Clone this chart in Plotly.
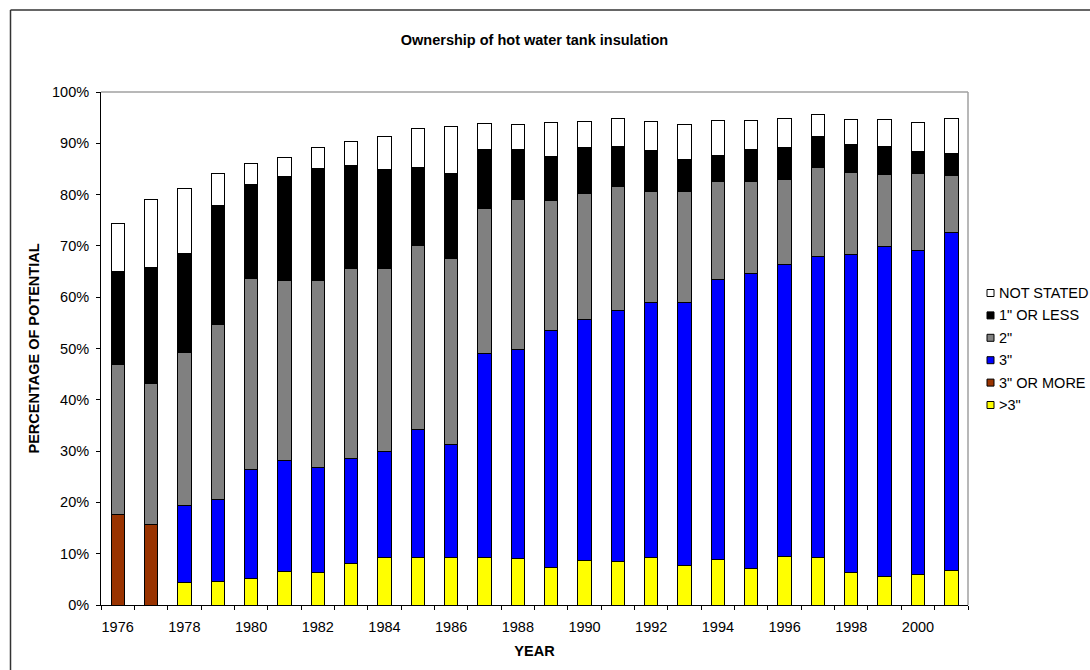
import plotly.graph_objects as go

# Survey years (one category per bar)
years = ["1976", "1977", "1978", "1979", "1980", "1981", "1982", "1983", "1984",
         "1985", "1986", "1987", "1988", "1989", "1990", "1991", "1992", "1993",
         "1994", "1995", "1996", "1997", "1998", "1999", "2000", "2001"]

# Share of potential (%) by insulation thickness, stacked bottom to top
over_3in = [None, None, 4.4, 4.6, 5.2, 6.6, 6.4, 8.0, 9.2, 9.3, 9.3, 9.2, 9.1,
            7.4, 8.6, 8.5, 9.2, 7.7, 8.9, 7.2, 9.4, 9.2, 6.3, 5.5, 6.0, 6.8]
three_or_more = [17.6, 15.6, None, None, None, None, None, None, None, None, None,
                 None, None, None, None, None, None, None, None, None, None, None,
                 None, None, None, None]
three_in = [None, None, 15.0, 16.0, 21.3, 21.5, 20.4, 20.5, 20.7, 24.9, 21.9, 39.9,
            40.8, 46.2, 47.1, 49.0, 49.8, 51.3, 54.6, 57.4, 57.0, 58.7, 62.1, 64.3,
            63.1, 65.9]
two_in = [29.2, 27.6, 29.8, 34.0, 37.1, 35.2, 36.4, 37.1, 35.7, 35.8, 36.3, 28.2,
          29.2, 25.3, 24.5, 24.0, 21.7, 21.7, 19.0, 18.0, 16.6, 17.3, 16.0, 14.1,
          15.0, 11.0]
one_or_less = [18.2, 22.6, 19.4, 23.2, 18.4, 20.2, 21.8, 20.0, 19.2, 15.2, 16.6,
               11.4, 9.7, 8.6, 8.9, 7.8, 7.9, 6.2, 5.2, 6.2, 6.1, 6.1, 5.4, 5.4,
               4.4, 4.4]
not_stated = [9.4, 13.2, 12.5, 6.4, 4.1, 3.8, 4.1, 4.7, 6.5, 7.6, 9.1, 5.2, 4.9,
              6.5, 5.1, 5.5, 5.6, 6.8, 6.7, 5.7, 5.7, 4.4, 4.8, 5.3, 5.5, 6.7]

series_names = ['>3"', '3" OR MORE', '3"', '2"', '1" OR LESS', 'NOT STATED']
series_values = [over_3in, three_or_more, three_in, two_in, one_or_less, not_stated]
series_colors = ["#FFFF00", "#993300", "#0000FF", "#808080", "#000000", "#FFFFFF"]

FONT = "Liberation Sans, Arial, sans-serif"
W, H = 1090, 670
L, R, T, B = 101, 968, 92, 605   # plot area in pixels


# paper coordinates cover the whole page (margins are zero, axes use domains)
def px_x(px):
    return px / W


def px_y(py):
    return 1 - py / H


fig = go.Figure()
for name, vals, col in zip(series_names, series_values, series_colors):
    fig.add_trace(go.Bar(
        x=years, y=vals, name=name, showlegend=False,
        marker=dict(color=col, line=dict(color="#000000", width=1)),
    ))

frame = dict(color="#333333", width=1.5)
grey = dict(color="#A0A0A0", width=1.5)
shapes = [
    # outer chart frame (left and top edges; right and bottom run off the page)
    dict(type="line", xref="paper", yref="paper",
         x0=px_x(10.5), x1=px_x(10.5), y0=0, y1=px_y(10), line=frame),
    dict(type="line", xref="paper", yref="paper",
         x0=px_x(10.5), x1=1, y0=px_y(10), y1=px_y(10), line=frame),
    # plot area border (top and right)
    dict(type="line", xref="paper", yref="paper",
         x0=px_x(L), x1=px_x(R), y0=px_y(T), y1=px_y(T), line=grey),
    dict(type="line", xref="paper", yref="paper",
         x0=px_x(R), x1=px_x(R), y0=px_y(B), y1=px_y(T), line=grey),
]

annotations = []
# legend, listed top to bottom in reverse stacking order
leg_top, leg_step = 293, 22.4
for i, (name, col) in enumerate(zip(series_names[::-1], series_colors[::-1])):
    cy = leg_top + i * leg_step
    shapes.append(dict(type="rect", xref="paper", yref="paper",
                       x0=px_x(987), x1=px_x(994), y0=px_y(cy + 3.5), y1=px_y(cy - 3.5),
                       fillcolor=col, line=dict(color="#000000", width=1)))
    annotations.append(dict(xref="paper", yref="paper", x=px_x(997), y=px_y(cy),
                            xanchor="left", yanchor="middle", showarrow=False,
                            text=name, font=dict(family=FONT, size=14.5, color="#000000")))

fig.update_layout(
    width=W, height=H,
    margin=dict(l=0, r=0, t=0, b=0, pad=0, autoexpand=False),
    paper_bgcolor="#FFFFFF", plot_bgcolor="#FFFFFF",
    barmode="stack", bargap=0.6,
    font=dict(family=FONT, size=14.5, color="#000000"),
    title=dict(text="<b>Ownership of hot water tank insulation</b>",
               x=(L + R) / 2 / W, xanchor="center",
               y=1 - 40 / H, yanchor="middle", yref="container",
               font=dict(family=FONT, size=14.5, color="#000000")),
    xaxis=dict(
        domain=[px_x(L), px_x(R)],
        type="category", categoryorder="array", categoryarray=years,
        tickmode="array", tickvals=years,
        ticktext=[y if int(y) % 2 == 0 else "" for y in years],
        tickson="boundaries", ticks="outside", ticklen=4, tickcolor="#000000",
        tickangle=0, ticklabelstandoff=9,
        showline=True, linecolor="#000000", linewidth=1, showgrid=False,
        tickfont=dict(family=FONT, size=14.5, color="#000000"),
        title=dict(text="<b>YEAR</b>", standoff=11,
                   font=dict(family=FONT, size=14.5, color="#000000")),
    ),
    yaxis=dict(
        domain=[px_y(B), px_y(T)],
        range=[0, 100], tickmode="linear", tick0=0, dtick=10, ticksuffix="%",
        ticks="outside", ticklen=4, tickcolor="#000000", ticklabelstandoff=4,
        showline=True, linecolor="#000000", linewidth=1, showgrid=False,
        zeroline=False,
        tickfont=dict(family=FONT, size=14.5, color="#000000"),
        title=dict(text="<b>PERCENTAGE OF POTENTIAL</b>", standoff=8,
                   font=dict(family=FONT, size=14.5, color="#000000")),
    ),
    shapes=shapes, annotations=annotations,
)

fig.write_html("out.html")
